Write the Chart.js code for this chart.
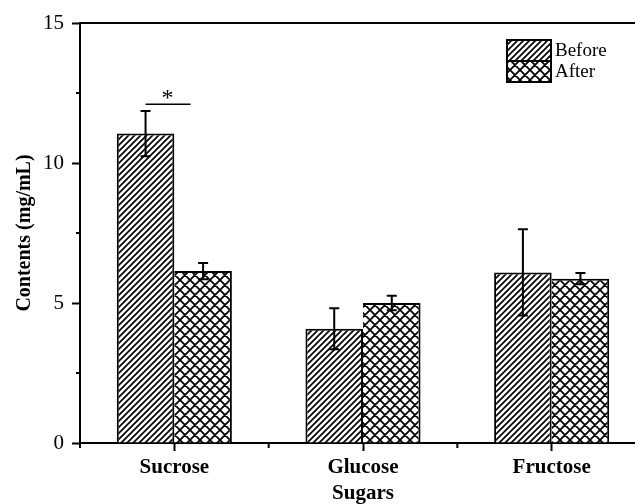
<!DOCTYPE html>
<html>
<head>
<meta charset="utf-8">
<script src="https://cdn.jsdelivr.net/npm/chart.js@4/dist/chart.umd.min.js"></script>
<style>
    html, body { margin: 0; padding: 0; background: #fff; overflow: hidden; }
</style>
</head>
<body>
<canvas id="chart" width="650" height="504"></canvas>
<script>
// values
var categories = ['Sucrose', 'Glucose', 'Fructose'];
var beforeValues = [11.05, 4.08, 6.09];
var beforeErrors = [0.81, 0.73, 1.54];
var afterValues = [6.14, 5.0, 5.87];
var afterErrors = [0.29, 0.26, 0.2];
var yMajorTicks = [0, 5, 10, 15];
var yMinorTicks = [2.5, 7.5, 12.5];
var seriesNames = ['Before', 'After'];
var starLevel = 12.1;   // y value of the significance line above Sucrose

var serif = '"Liberation Serif", "Times New Roman", serif';

function makePattern(cross) {
    var size = cross ? 10 : 6;
    var c = document.createElement('canvas');
    c.width = size;
    c.height = size;
    var g = c.getContext('2d');
    g.fillStyle = '#fff';
    g.fillRect(0, 0, size, size);
    g.strokeStyle = '#000';
    g.lineWidth = cross ? 1.8 : 1.7;
    g.beginPath();
    // "/" lines, extended past the tile so the joins are seamless
    g.moveTo(-1, size + 1); g.lineTo(size + 1, -1);
    g.moveTo(-1, 1); g.lineTo(1, -1);
    g.moveTo(size - 1, size + 1); g.lineTo(size + 1, size - 1);
    if (cross) {
        g.moveTo(-1, -1); g.lineTo(size + 1, size + 1);
        g.moveTo(size - 1, -1); g.lineTo(size + 1, 1);
        g.moveTo(-1, size - 1); g.lineTo(1, size + 1);
    }
    g.stroke();
    return g.createPattern(c, 'repeat');
}

var hatch = makePattern(false);
var crossHatch = makePattern(true);
var errors = [beforeErrors, afterErrors];

var extras = {
    id: 'extras',
    beforeDraw: function (chart) {
        var ctx = chart.ctx;
        ctx.save();
        ctx.fillStyle = '#fff';
        ctx.fillRect(0, 0, chart.width, chart.height);
        ctx.restore();
    },
    afterDatasetsDraw: function (chart) {
        var ctx = chart.ctx;
        var y = chart.scales.y;
        var x = chart.scales.x;
        var area = chart.chartArea;
        ctx.save();
        ctx.strokeStyle = '#000';
        ctx.lineWidth = 2;

        // error bars
        chart.data.datasets.forEach(function (ds, i) {
            var meta = chart.getDatasetMeta(i);
            meta.data.forEach(function (bar, j) {
                var top = y.getPixelForValue(ds.data[j] + errors[i][j]);
                var bot = y.getPixelForValue(ds.data[j] - errors[i][j]);
                ctx.beginPath();
                ctx.moveTo(bar.x, top); ctx.lineTo(bar.x, bot);
                ctx.moveTo(bar.x - 5, top); ctx.lineTo(bar.x + 5, top);
                ctx.moveTo(bar.x - 5, bot); ctx.lineTo(bar.x + 5, bot);
                ctx.stroke();
            });
        });

        // top frame line
        ctx.beginPath();
        ctx.moveTo(area.left, area.top);
        ctx.lineTo(area.right, area.top);
        ctx.stroke();

        // minor ticks on y
        yMinorTicks.forEach(function (v) {
            var py = y.getPixelForValue(v);
            ctx.beginPath();
            ctx.moveTo(area.left - 4, py);
            ctx.lineTo(area.left, py);
            ctx.stroke();
        });

        // minor ticks between categories
        for (var k = 0; k <= categories.length; k++) {
            var px = x.getPixelForValue(k - 0.5);
            ctx.beginPath();
            ctx.moveTo(px, area.bottom);
            ctx.lineTo(px, area.bottom + 5);
            ctx.stroke();
        }

        // significance marker over Sucrose
        var b0 = chart.getDatasetMeta(0).data[0];
        var ly = y.getPixelForValue(starLevel);
        ctx.lineWidth = 1.5;
        ctx.beginPath();
        ctx.moveTo(b0.x, ly);
        ctx.lineTo(b0.x + 45, ly);
        ctx.stroke();
        ctx.fillStyle = '#000';
        ctx.font = '24px ' + serif;
        ctx.textAlign = 'center';
        ctx.textBaseline = 'alphabetic';
        ctx.fillText('*', b0.x + 22, ly + 1);

        // legend
        var fills = [hatch, crossHatch];
        ctx.lineWidth = 2;
        ctx.font = '19px ' + serif;
        ctx.textAlign = 'left';
        ctx.textBaseline = 'middle';
        seriesNames.forEach(function (name, i) {
            var ty = 40 + i * 21;
            ctx.fillStyle = fills[i];
            ctx.fillRect(507, ty, 44, 21);
            ctx.strokeRect(507, ty, 44, 21);
            ctx.fillStyle = '#000';
            ctx.fillText(name, 555, ty + 11);
        });
        ctx.restore();
    }
};

new Chart(document.getElementById('chart'), {
    type: 'bar',
    data: {
        labels: categories,
        datasets: [
            {
                label: seriesNames[0],
                data: beforeValues,
                backgroundColor: hatch,
                borderColor: '#000',
                borderWidth: { left: 2, top: 2, right: 2, bottom: 0 },
                borderSkipped: false
            },
            {
                label: seriesNames[1],
                data: afterValues,
                backgroundColor: crossHatch,
                borderColor: '#000',
                borderWidth: { left: 0, top: 2, right: 2, bottom: 0 },
                borderSkipped: false
            }
        ]
    },
    options: {
        responsive: false,
        animation: false,
        devicePixelRatio: 1,
        layout: { padding: { top: 23, right: 4, left: 0, bottom: 0 } },
        datasets: {
            bar: { categoryPercentage: 0.61, barPercentage: 1 }
        },
        plugins: {
            legend: { display: false },
            tooltip: { enabled: false }
        },
        scales: {
            x: {
                grid: {
                    offset: false,
                    drawOnChartArea: false,
                    tickLength: 8,
                    tickWidth: 2,
                    tickColor: '#000'
                },
                border: { color: '#000', width: 2 },
                ticks: {
                    color: '#000',
                    padding: 4,
                    font: { family: serif, size: 21, weight: 'bold' }
                },
                title: {
                    display: true,
                    text: 'Sugars',
                    color: '#000',
                    padding: { top: 0, bottom: 0 },
                    font: { family: serif, size: 21, weight: 'bold', lineHeight: 1 }
                },
                afterFit: function (scale) { scale.height = 61; }
            },
            y: {
                min: 0,
                max: 15,
                afterBuildTicks: function (scale) {
                    scale.ticks = yMajorTicks.map(function (v) { return { value: v }; });
                },
                grid: {
                    drawOnChartArea: false,
                    tickLength: 8,
                    tickWidth: 2,
                    tickColor: '#000'
                },
                border: { color: '#000', width: 2 },
                ticks: {
                    color: '#000',
                    padding: 8,
                    font: { family: serif, size: 21 }
                },
                title: {
                    display: true,
                    text: 'Contents (mg/mL)',
                    color: '#000',
                    padding: { top: 13, bottom: 0 },
                    font: { family: serif, size: 20, weight: 'bold' }
                },
                afterFit: function (scale) { scale.width = 80; }
            }
        }
    },
    plugins: [extras]
});
</script>
</body>
</html>
